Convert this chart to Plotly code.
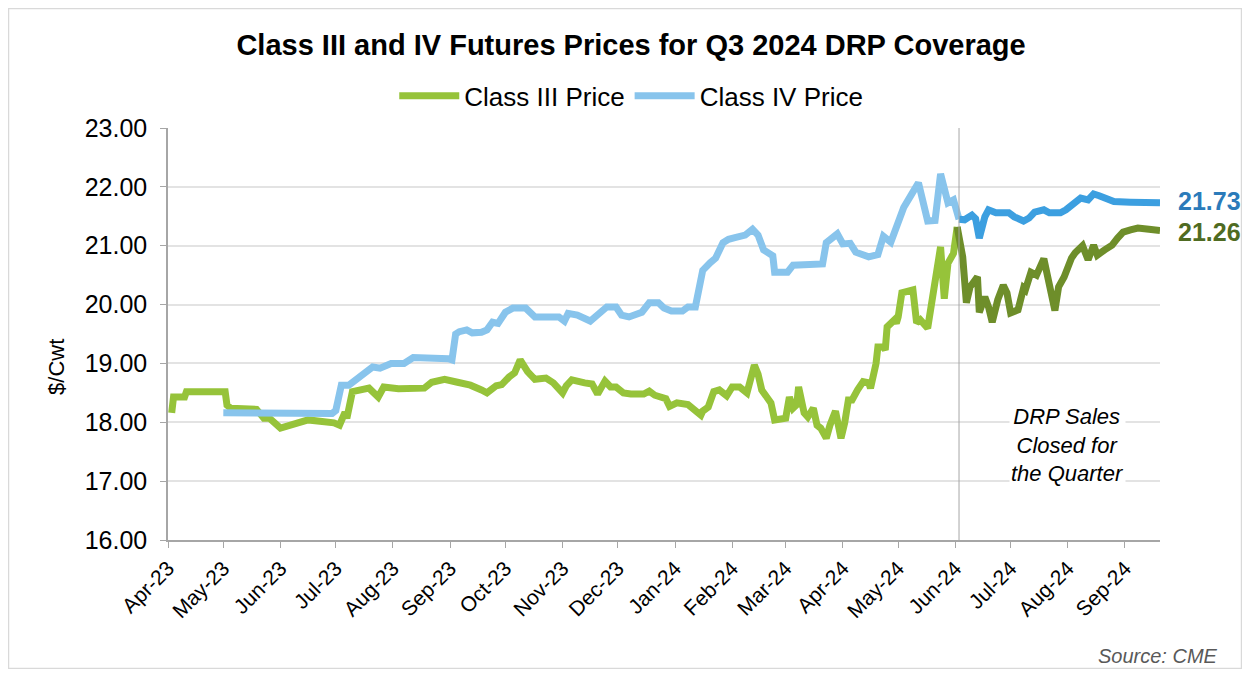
import plotly.graph_objects as go

# ---------------- data ----------------
c3_dates = ["2023-04-03","2023-04-04","2023-04-10","2023-04-11","2023-05-02","2023-05-03","2023-05-05","2023-05-19",
            "2023-05-23","2023-05-26","2023-06-01","2023-06-06","2023-06-14","2023-06-16","2023-06-30","2023-07-03",
            "2023-07-06","2023-07-07","2023-07-10","2023-07-17","2023-07-19","2023-07-24","2023-07-27","2023-08-04",
            "2023-08-18","2023-08-22","2023-08-29","2023-09-05","2023-09-12","2023-09-18","2023-09-21","2023-09-26",
            "2023-09-29","2023-10-03","2023-10-06","2023-10-09","2023-10-11","2023-10-13","2023-10-17","2023-10-23",
            "2023-10-27","2023-10-30","2023-11-01","2023-11-03","2023-11-06","2023-11-13","2023-11-17","2023-11-20",
            "2023-11-22","2023-11-24","2023-11-27","2023-11-30","2023-12-04","2023-12-08","2023-12-15","2023-12-18",
            "2023-12-21","2023-12-27","2023-12-29","2024-01-02","2024-01-08","2024-01-12","2024-01-15","2024-01-16",
            "2024-01-19","2024-01-22","2024-01-25","2024-01-29","2024-02-01","2024-02-05","2024-02-09","2024-02-13",
            "2024-02-15","2024-02-17","2024-02-22","2024-02-24","2024-03-01","2024-03-03","2024-03-05","2024-03-07",
            "2024-03-08","2024-03-11","2024-03-13","2024-03-16","2024-03-18","2024-03-20","2024-03-23","2024-03-25",
            "2024-03-28","2024-03-31","2024-04-02","2024-04-04","2024-04-06","2024-04-09","2024-04-12","2024-04-15",
            "2024-04-16","2024-04-19","2024-04-20","2024-04-23","2024-04-24","2024-04-25","2024-04-29","2024-04-30",
            "2024-05-01","2024-05-03","2024-05-07","2024-05-09","2024-05-11","2024-05-13","2024-05-17","2024-05-19",
            "2024-05-20","2024-05-23","2024-05-24","2024-05-26","2024-05-28","2024-05-31","2024-06-02"]
c3_values = [18.16,18.43,18.43,18.52,18.52,18.29,18.24,18.22,
             18.07,18.07,17.90,17.95,18.00,18.04,17.99,17.95,
             18.17,18.07,18.52,18.58,18.58,18.43,18.60,18.57,
             18.58,18.68,18.73,18.68,18.63,18.55,18.50,18.62,
             18.64,18.77,18.84,19.06,18.94,18.86,18.73,18.75,
             18.67,18.55,18.50,18.62,18.72,18.67,18.65,18.48,
             18.58,18.70,18.60,18.60,18.50,18.48,18.48,18.53,
             18.46,18.40,18.27,18.33,18.30,18.21,18.12,18.19,
             18.26,18.52,18.55,18.45,18.60,18.60,18.50,18.97,
             18.82,18.55,18.33,18.04,18.07,18.43,18.24,18.30,
             18.60,18.16,18.09,18.24,17.95,17.90,17.73,17.95,
             18.19,17.73,17.99,18.38,18.38,18.55,18.69,18.67,
             18.58,19.00,19.28,19.28,19.23,19.62,19.74,19.68,
             19.79,20.20,20.25,20.25,19.69,19.74,19.60,19.96,
             20.25,20.67,20.98,20.10,20.70,20.87,21.32]

c3_closed_dates = ["2024-06-02","2024-06-05","2024-06-07","2024-06-09","2024-06-13","2024-06-14","2024-06-17",
                   "2024-06-19","2024-06-21","2024-06-24","2024-06-27","2024-06-29","2024-07-01","2024-07-05",
                   "2024-07-08","2024-07-09","2024-07-12","2024-07-15","2024-07-19","2024-07-22","2024-07-25",
                   "2024-07-27","2024-07-30","2024-08-03","2024-08-05","2024-08-09","2024-08-12","2024-08-15",
                   "2024-08-17","2024-08-21","2024-08-25","2024-08-28","2024-08-31","2024-09-04","2024-09-08",
                   "2024-09-14","2024-09-17","2024-09-20"]
c3_closed_values = [21.32,20.81,20.03,20.30,20.47,19.87,20.13,
                    19.96,19.70,20.08,20.33,20.20,19.86,19.91,
                    20.28,20.25,20.55,20.50,20.78,20.36,19.90,
                    20.30,20.47,20.79,20.88,21.00,20.76,21.01,
                    20.84,20.93,21.01,21.13,21.23,21.27,21.30,
                    21.28,21.27,21.26]

c4_dates = ["2023-05-01","2023-06-29","2023-07-01","2023-07-04","2023-07-08","2023-07-12","2023-07-15","2023-07-21",
            "2023-07-25","2023-07-31","2023-08-07","2023-08-12","2023-08-31","2023-09-02","2023-09-04","2023-09-06",
            "2023-09-10","2023-09-13","2023-09-18","2023-09-21","2023-09-24","2023-09-27","2023-10-01","2023-10-05",
            "2023-10-12","2023-10-17","2023-10-30","2023-11-02","2023-11-04","2023-11-09","2023-11-16","2023-11-20",
            "2023-11-25","2023-11-30","2023-12-03","2023-12-07","2023-12-14","2023-12-18","2023-12-23","2023-12-26",
            "2023-12-30","2024-01-05","2024-01-08","2024-01-12","2024-01-15","2024-01-16","2024-01-20","2024-01-23",
            "2024-01-27","2024-01-30","2024-02-03","2024-02-08","2024-02-12","2024-02-15","2024-02-18","2024-02-23",
            "2024-02-24","2024-03-02","2024-03-05","2024-03-21","2024-03-23","2024-03-29","2024-04-01","2024-04-05",
            "2024-04-08","2024-04-15","2024-04-20","2024-04-23","2024-04-27","2024-05-01","2024-05-04","2024-05-08",
            "2024-05-12","2024-05-17","2024-05-21","2024-05-24","2024-05-27","2024-05-28","2024-05-31","2024-06-03"]
c4_values = [18.16,18.15,18.20,18.63,18.63,18.72,18.80,18.94,
             18.92,19.00,19.00,19.10,19.08,19.06,19.50,19.54,
             19.57,19.52,19.53,19.57,19.70,19.68,19.87,19.94,
             19.94,19.79,19.79,19.72,19.85,19.82,19.72,19.82,
             19.96,19.96,19.82,19.79,19.87,20.03,20.03,19.94,
             19.89,19.89,19.96,19.96,20.53,20.58,20.71,20.79,
             21.05,21.11,21.14,21.18,21.28,21.18,20.93,20.83,
             20.55,20.55,20.67,20.69,21.05,21.20,21.03,21.04,
             20.89,20.81,20.85,21.16,21.06,21.44,21.65,21.86,
             22.07,21.42,21.43,22.22,21.80,21.73,21.78,21.45]

c4_closed_dates = ["2024-06-03","2024-06-06","2024-06-10","2024-06-12","2024-06-14","2024-06-17","2024-06-19",
                   "2024-06-23","2024-06-30","2024-07-03","2024-07-08","2024-07-11","2024-07-14","2024-07-19",
                   "2024-07-22","2024-07-28","2024-07-31","2024-08-04","2024-08-08","2024-08-12","2024-08-15",
                   "2024-08-18","2024-08-23","2024-08-26","2024-09-04","2024-09-20"]
c4_closed_values = [21.45,21.44,21.52,21.46,21.13,21.49,21.61,
                    21.56,21.56,21.49,21.42,21.47,21.57,21.61,
                    21.56,21.56,21.61,21.73,21.81,21.78,21.88,
                    21.85,21.78,21.75,21.74,21.73]

sales_closed_date = "2024-06-03"
x_range = ["2023-04-01", "2024-09-20"]
y_ticks = [16, 17, 18, 19, 20, 21, 22, 23]

# ---------------- style ----------------
FONT = "Liberation Sans, Arial, sans-serif"
GREEN_L = "#96C33A"
GREEN_D = "#6E8E2A"
BLUE_L = "#88C4EC"
BLUE_D = "#3C9FE0"
LW = 7

fig = go.Figure()
fig.add_trace(go.Scatter(x=c3_dates, y=c3_values, mode="lines", name="Class III Price",
                         line=dict(color=GREEN_L, width=LW)))
fig.add_trace(go.Scatter(x=c4_dates, y=c4_values, mode="lines", name="Class IV Price",
                         line=dict(color=BLUE_L, width=LW)))
fig.add_trace(go.Scatter(x=c4_closed_dates, y=c4_closed_values, mode="lines", showlegend=False,
                         line=dict(color=BLUE_D, width=LW)))
fig.add_trace(go.Scatter(x=c3_closed_dates, y=c3_closed_values, mode="lines", showlegend=False,
                         line=dict(color=GREEN_D, width=LW)))

fig.add_shape(type="line", xref="x", yref="paper", x0=sales_closed_date, x1=sales_closed_date,
              y0=0, y1=1, line=dict(color="#A6A6A6", width=1))

# outer border
fig.add_shape(type="rect", xref="paper", yref="paper", x0=-0.1608, x1=1.0822, y0=-0.312, y1=1.290,
              line=dict(color="#D9D9D9", width=1.5), layer="below")

fig.add_annotation(x=c4_closed_dates[-1], y=c4_closed_values[-1], text="<b>%.2f</b>" % c4_closed_values[-1],
                   showarrow=False, xanchor="left", xshift=16, yshift=2,
                   font=dict(size=25, color="#2B7BBA", family=FONT))
fig.add_annotation(x=c3_closed_dates[-1], y=c3_closed_values[-1], text="<b>%.2f</b>" % c3_closed_values[-1],
                   showarrow=False, xanchor="left", xshift=16, yshift=-2,
                   font=dict(size=25, color="#4F6B22", family=FONT))

fig.add_annotation(x="2024-08-01", y=17.61, text="<i>DRP Sales<br>Closed for<br>the Quarter</i>",
                   showarrow=False, bgcolor="white", align="center",
                   font=dict(size=22, color="#000000", family=FONT))

fig.add_annotation(xref="paper", yref="paper", x=1.0605, y=-0.282, text="<i>Source: CME</i>",
                   showarrow=False, xanchor="right", yanchor="middle",
                   font=dict(size=20, color="#595959", family=FONT))

fig.add_annotation(xref="paper", yref="paper", x=-0.1119, y=0.42, text="$/Cwt", textangle=-90,
                   showarrow=False, xanchor="center", yanchor="middle",
                   font=dict(size=22, color="#000000", family=FONT))

fig.update_layout(
    width=1234, height=661,
    margin=dict(l=160, r=82, t=120, b=129),
    paper_bgcolor="white", plot_bgcolor="white",
    font=dict(family=FONT, color="#000000"),
    title=dict(text="<b>Class III and IV Futures Prices for Q3 2024 DRP Coverage</b>",
               x=0.5049, xanchor="center", y=0.944, yanchor="middle",
               font=dict(size=29, family=FONT, color="#000000")),
    legend=dict(orientation="h", x=0.467, xanchor="center", y=1.078, yanchor="middle",
                font=dict(size=26, family=FONT), itemwidth=60, traceorder="normal"),
    showlegend=True,
)
fig.update_xaxes(type="date", range=x_range, dtick="M1", tick0="2023-04-01", tickformat="%b-%y",
                 tickangle=-45, tickfont=dict(size=21, family=FONT),
                 showgrid=False, showline=True, linecolor="#A6A6A6", linewidth=1.5,
                 ticks="outside", ticklen=6, tickcolor="#A6A6A6", zeroline=False)
fig.update_yaxes(range=[16, 23], tickvals=y_ticks, tickformat=".2f",
                 tickfont=dict(size=25, family=FONT), ticklabelstandoff=8,
                 showgrid=True, gridcolor="#E3E3E3", gridwidth=2,
                 showline=True, linecolor="#A6A6A6", linewidth=1.5,
                 ticks="outside", ticklen=6, tickcolor="#A6A6A6", zeroline=False)

fig.write_html("out.html")
